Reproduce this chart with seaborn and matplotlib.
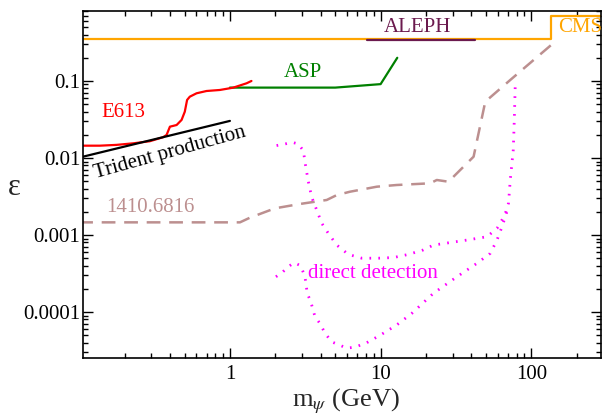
import numpy as np
import pandas as pd
import matplotlib
matplotlib.use("Agg")
import matplotlib.pyplot as plt
import seaborn as sns
from matplotlib.ticker import LogLocator, NullFormatter, FixedLocator, FixedFormatter

# ---------------- data ----------------
cms_x = [0.1, 136, 136, 300]
cms_y = [0.355, 0.355, 0.70, 0.70]

aleph_x = [8.1, 42]
aleph_y = [0.338, 0.338]

asp_x = [1.0, 5.0, 10.0, 12.9]
asp_y = [0.082, 0.082, 0.091, 0.20]

e613_x = [0.106, 0.137, 0.177, 0.228, 0.294, 0.360, 0.380, 0.400, 0.443, 0.478,
          0.502, 0.520, 0.542, 0.601, 0.700, 0.858, 1.05, 1.29, 1.39]
e613_y = [0.01445, 0.01445, 0.0148, 0.0155, 0.0165, 0.0186, 0.0199, 0.0255, 0.0268, 0.0312,
          0.0399, 0.0567, 0.0625, 0.0692, 0.0741, 0.0764, 0.0818, 0.0933, 0.100]

trident_x = [0.106, 1.0]
trident_y = [0.0104, 0.0303]

ref_x = [0.1, 1.166, 1.36, 1.99, 2.92, 4.39, 5.12, 6.27, 9.44, 12.8, 21.3, 23.6, 28.2,
         41.4, 49.5, 72.5, 148]
ref_y = [0.00146, 0.00146, 0.00168, 0.00222, 0.00253, 0.00285, 0.0033, 0.00365, 0.00424,
         0.00446, 0.00469, 0.00518, 0.00492, 0.0104, 0.0539, 0.103, 0.34]

dd_up_x = [2.04, 2.32, 2.59, 2.84, 3.07, 3.18, 3.31, 3.49, 3.77, 4.07, 4.5, 5.12, 6.11,
           7.5, 9.67, 12.2, 15.3, 19.2, 22.4, 37.4, 50.8, 59.2, 63.9, 67.2, 70.6, 72.5,
           75.9, 77.1, 78.3]
dd_up_y = [0.0145, 0.0152, 0.0160, 0.0152, 0.0125, 0.0079, 0.0050, 0.0031, 0.0021,
           0.00142, 0.00105, 0.00074, 0.00056, 0.00050, 0.00050, 0.00051, 0.00056,
           0.00064, 0.00074, 0.00086, 0.00095, 0.00122, 0.00157, 0.0019, 0.0026, 0.0052,
           0.0127, 0.031, 0.094]

dd_lo_x = [2.02, 2.23, 2.44, 2.67, 2.95, 3.15, 3.26, 3.44, 3.67, 3.96, 4.28, 4.74, 5.96,
           6.77, 8.1, 9.93, 12.8, 16.1, 22.4, 32.1, 43.5, 53.4, 59.2, 63.9, 67.2, 70.6]
dd_lo_y = [0.000287, 0.000328, 0.000388, 0.000437, 0.000399, 0.000287, 0.000175,
           0.000136, 8.7e-5, 7.1e-5, 5.3e-5, 4.1e-5, 3.4e-5, 3.5e-5, 4.0e-5, 5.0e-5,
           6.8e-5, 9.6e-5, 0.000175, 0.000287, 0.000428, 0.000578, 0.00086, 0.00128,
           0.00173, 0.00233]

x_ticks = [1, 10, 100]
x_tick_labels = ["1", "10", "100"]
y_ticks = [0.0001, 0.001, 0.01, 0.1]
y_tick_labels = ["0.0001", "0.001", "0.01", "0.1"]

# ---------------- style ----------------
sns.set_theme(style="ticks")
plt.rcParams["font.family"] = ["Liberation Serif", "DejaVu Serif"]
plt.rcParams["mathtext.fontset"] = "stix"

fig = plt.figure(figsize=(6.03, 4.17), dpi=100)
ax = fig.add_axes([83 / 603, 1 - 358 / 417, (601 - 83) / 603, (358 - 11) / 417])
ax.set_xscale("log")
ax.set_yscale("log")

def draw(xs, ys, **kw):
    sns.lineplot(x=xs, y=ys, ax=ax, sort=False, estimator=None, legend=False, **kw)

draw(cms_x, cms_y, color="#FFA500", lw=1.6)
draw(aleph_x, aleph_y, color="#6B1A4E", lw=1.6)
draw(asp_x, asp_y, color="#008000", lw=1.6)
draw(e613_x, e613_y, color="#FF0000", lw=1.6)
draw(trident_x, trident_y, color="black", lw=1.6)
draw(ref_x, ref_y, color="#BC8F8F", lw=1.8, linestyle=(0, (5.5, 3.5)))
draw(dd_up_x, dd_up_y, color="#FF00FF", lw=2.0, linestyle=(0, (0.6, 2.6)))
draw(dd_lo_x, dd_lo_y, color="#FF00FF", lw=2.0, linestyle=(0, (0.6, 2.6)))

ax.set_xlim(0.106, 290)
ax.set_ylim(2.53e-5, 0.81)

# ---------------- labels ----------------
fs = 15
ax.text(0.141, 0.0395, "E613", color="#FF0000", fontsize=fs, ha="left", va="center")
ax.text(0.40, 0.0116, "Trident production", color="black", fontsize=fs,
        ha="center", va="center", rotation=15.5, rotation_mode="anchor")
ax.text(17.6, 0.50, "ALEPH", color="#6B1A4E", fontsize=fs, ha="center", va="center")
ax.text(3.05, 0.127, "ASP", color="#008000", fontsize=fs, ha="center", va="center")
ax.text(151, 0.50, "CMS", color="#FFA500", fontsize=fs, ha="left", va="center", clip_on=False)
ax.text(0.150, 0.00231, "1410.6816", color="#BC8F8F", fontsize=fs, ha="left", va="center")
ax.text(3.30, 0.00032, "direct detection", color="#FF00FF", fontsize=fs, ha="left", va="center")

ax.set_xlabel(r"m$_\psi$ (GeV)", fontsize=19)
ax.xaxis.set_label_coords(0.508, -0.125)
ax.xaxis.label.set_va("center")
ax.set_ylabel("ε", rotation=0, fontsize=22)
ax.yaxis.set_label_coords(-0.133, 0.49)
ax.yaxis.label.set_va("center")

# ---------------- ticks ----------------
ax.xaxis.set_major_locator(FixedLocator(x_ticks))
ax.xaxis.set_major_formatter(FixedFormatter(x_tick_labels))
ax.yaxis.set_major_locator(FixedLocator(y_ticks))
ax.yaxis.set_major_formatter(FixedFormatter(y_tick_labels))
ax.xaxis.set_minor_locator(LogLocator(base=10, subs=np.arange(2, 10), numticks=50))
ax.yaxis.set_minor_locator(LogLocator(base=10, subs=np.arange(2, 10), numticks=50))
ax.xaxis.set_minor_formatter(NullFormatter())
ax.yaxis.set_minor_formatter(NullFormatter())
ax.tick_params(which="both", direction="in", top=True, right=True, colors="black",
               labelsize=fs, width=1.0)
ax.tick_params(which="major", length=7)
ax.tick_params(which="minor", length=3.5)
ax.tick_params(axis="y", pad=2)
ax.tick_params(axis="x", pad=5)
for s in ax.spines.values():
    s.set_linewidth(1.2)
    s.set_color("black")

fig.savefig("out.png", dpi=100)
